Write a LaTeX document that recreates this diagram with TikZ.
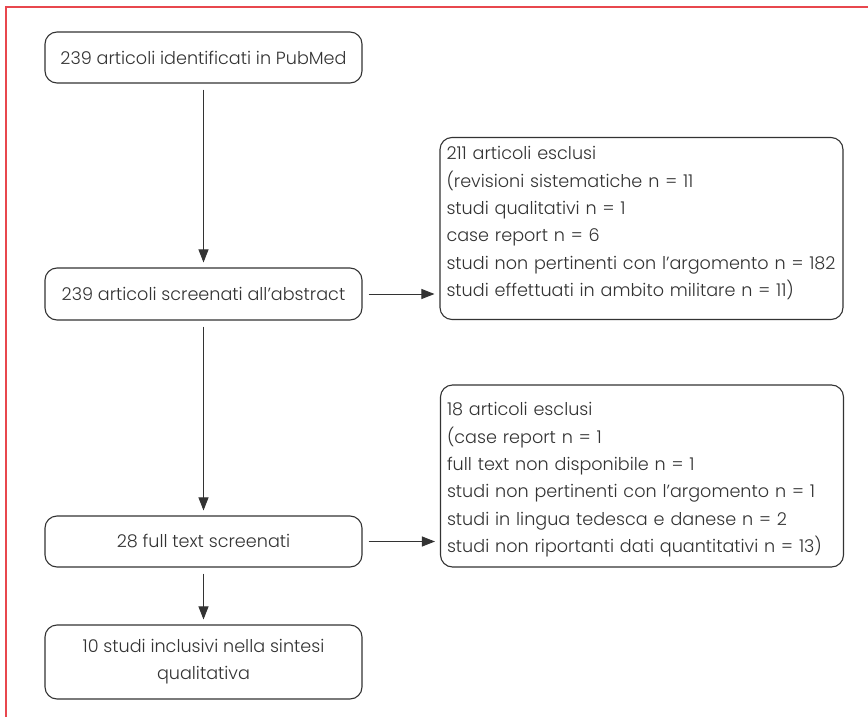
\documentclass[tikz,border=0pt]{standalone}
\usepackage{fontspec}
\setmainfont{Poppins}[UprightFont={* Light}]
\usetikzlibrary{arrows.meta}
\definecolor{frame}{HTML}{E8474E}
\definecolor{ink}{HTML}{333333}
\begin{document}
\begin{tikzpicture}[x=1pt,y=-1pt,
  box/.style={draw=ink, line width=1.1pt, rounded corners=12pt, minimum width=317pt, inner sep=0pt, align=center, font=\fontsize{17.6}{27}\selectfont, text=ink},
  exbox/.style={draw=ink, line width=1.1pt, rounded corners=12pt, minimum width=403pt, minimum height=182pt, inner sep=0pt, text width=390pt, align=left, font=\fontsize{17.6}{27.3}\selectfont, text=ink},
  arr/.style={draw=ink, line width=1pt, -{Triangle[length=13pt,width=10pt]}, shorten <=6pt, shorten >=5pt}]
\useasboundingbox (0,0) rectangle (868,717);
\draw[frame, line width=1.5pt] (6,717) -- (6,7) -- (868,7);
\node[box, minimum height=51pt] (b1) at (203.5,57.5) {239 articoli identificati in PubMed};
\node[box, minimum height=52pt] (b2) at (203.5,294) {239 articoli screenati all’abstract};
\node[box, minimum height=51pt] (b3) at (203.5,541.5) {28 full text screenati};
\node[box, minimum height=74pt] (b4) at (203.5,662) {10 studi inclusivi nella sintesi\\qualitativa};
\node[exbox] (e1) at (641.5,228.5) {211 articoli esclusi\\(revisioni sistematiche n = 11\\studi qualitativi n = 1\\case report n = 6\\studi non pertinenti con l’argomento n = 182\\studi effettuati in ambito militare n = 11)\\[-13.3pt]\mbox{}};
\node[exbox] (e2) at (642,476) {\mbox{}\\[-6.3pt]18 articoli esclusi\\(case report n = 1\\full text non disponibile n = 1\\studi non pertinenti con l’argomento n = 1\\studi in lingua tedesca e danese n = 2\\studi non riportanti dati quantitativi n = 13)};
\draw[arr] (b1) -- (b2);
\draw[arr] (b2) -- (b3);
\draw[arr] (b3) -- (b4);
\draw[arr] (b2.east) -- (b2.east -| e1.west);
\draw[arr] (b3.east) -- (b3.east -| e2.west);
\end{tikzpicture}
\end{document}
